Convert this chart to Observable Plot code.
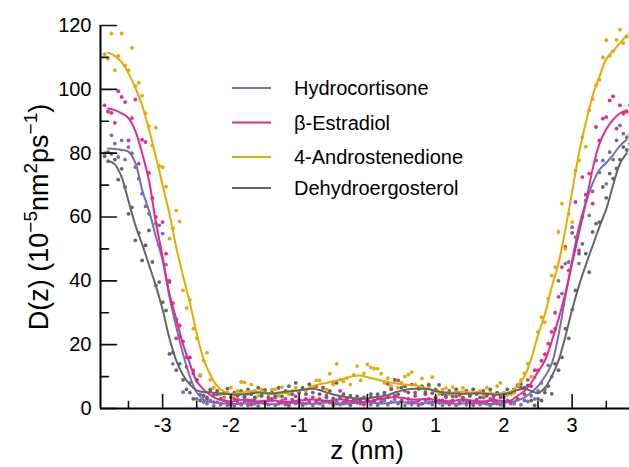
<!DOCTYPE html>
<html><head><meta charset="utf-8">
<script src="https://cdn.jsdelivr.net/npm/d3@7"></script>
<script src="https://cdn.jsdelivr.net/npm/@observablehq/plot@0.6"></script>
<style>body{margin:0;background:#fff}#chart{width:629px;height:467px}</style>
</head><body><div id="chart"></div>
<script>
const seriesNames = ["Hydrocortisone","β-Estradiol","4-Androstenedione","Dehydroergosterol"];
const seriesColors = ["#7570b3","#e7298a","#e6ab02","#666666"];
const yMajorTicks = [0,20,40,60,80,100,120];
const yMinorTicks = [10,30,50,70,90,110];
const xMajorTicks = [-3,-2,-1,0,1,2,3];
const xMinorTicks = [-3.5,-2.5,-1.5,-0.5,0.5,1.5,2.5,3.5];

// smoothed curves
const zLine = [-3.8,-3.7,-3.6,-3.5,-3.4,-3.3,-3.2,-3.1,-3,-2.9,-2.8,-2.7,-2.6,-2.5,-2.4,-2.3,-2.2,-2.1,-2,-1.9,-1.8,-1.7,-1.6,-1.5,-1.4,-1.3,-1.2,-1.1,-1,-0.9,-0.8,-0.7,-0.6,-0.5,-0.4,-0.3,-0.2,-0.1,0,0.1,0.2,0.3,0.4,0.5,0.6,0.7,0.8,0.9,1,1.1,1.2,1.3,1.4,1.5,1.6,1.7,1.8,1.9,2,2.1,2.2,2.3,2.4,2.5,2.6,2.7,2.8,2.9,3,3.1,3.2,3.3,3.4,3.5,3.6,3.7,3.8];
const hydroLine = [81.5,81.3,81,80.5,77,68.5,62,54,46.4,35,25.5,17,10,5,2.8,2,1.8,1.6,1.5,1.4,1.6,1.8,1.7,1.5,1.3,1.4,1.6,1.8,1.7,1.5,1.5,1.7,1.9,1.8,1.6,1.5,1.7,1.9,2,1.8,1.6,1.7,1.9,2,1.8,1.6,1.5,1.7,1.9,1.8,1.6,1.5,1.6,1.8,1.7,1.5,1.4,1.6,1.8,2,2.5,3.5,5,7,10,14,23,35,46.4,57,64.5,70.5,74.8,77,79.5,82.3,84.3];
const estraLine = [94,93.5,92.5,91,87,80,71.5,58.5,47.5,36,28,20,14,8.5,6,4.2,3,2.5,2.2,2.5,2.8,2.5,2.2,2.4,2.6,2.3,2,2.2,2.5,2.7,2.8,2.6,2.4,2.6,2.9,2.6,2.2,2,2.2,2.6,3,3.4,3.6,3.4,3,2.8,2.9,3,2.7,2.4,2.3,2.5,2.8,2.6,2.3,2.2,2.4,2.6,2.3,2.5,4,5.5,8,11.5,15,21,28,36,45.5,55,64.5,75,83,87.5,90.5,92.5,93.5];
const androLine = [111.5,110.5,108.5,105,100.5,95,87.5,79,70,61,50.5,41.5,33,23.5,15.5,10.5,7,5.3,4.6,4.8,5.2,5.5,5.3,5,4.8,4.6,5,5.3,5.6,6,7,7.6,8,8.6,9,9.6,10.2,10.3,9.8,9.3,8.8,8.3,7.9,7.7,7.4,7.2,6.7,6.1,5.6,5.1,5,5.2,5.3,5.1,5,4.9,4.7,4.5,4.6,5.3,7,10,15.5,23,29.5,38,45.5,56,68,80,89.5,98,104,109.5,112,114.5,117];
const dehydLine = [77.6,76.5,72.5,65,57.5,51.5,45,38.5,31,22,15,10.5,7.5,5.7,5.2,5,4.8,4.6,4.4,4.3,4.5,4.8,5,4.8,4.7,5,5.3,5.5,5.7,6,6.2,5.8,5,4.4,3.9,3.5,3.2,3,3.1,3.5,3.8,4.2,5,5.6,6,6.2,6.2,6,5.5,5.1,4.8,4.7,4.6,4.6,4.8,4.7,4.5,4.3,4.5,5,5.8,6.2,5.5,4.8,6.5,10,15,22.5,31,38.5,45,51,57,62.5,70,76.7,80];

// raw points
const zDots = [-3.85,-3.8,-3.75,-3.7,-3.65,-3.6,-3.55,-3.5,-3.45,-3.4,
-3.35,-3.3,-3.25,-3.2,-3.15,-3.1,-3.05,-3,-2.95,-2.9,
-2.85,-2.8,-2.75,-2.7,-2.65,-2.6,-2.55,-2.5,-2.45,-2.4,
-2.35,-2.3,-2.25,-2.2,-2.15,-2.1,-2.05,-2,-1.95,-1.9,
-1.85,-1.8,-1.75,-1.7,-1.65,-1.6,-1.55,-1.5,-1.45,-1.4,
-1.35,-1.3,-1.25,-1.2,-1.15,-1.1,-1.05,-1,-0.95,-0.9,
-0.85,-0.8,-0.75,-0.7,-0.65,-0.6,-0.55,-0.5,-0.45,-0.4,
-0.35,-0.3,-0.25,-0.2,-0.15,-0.1,-0.05,0,0.05,0.1,
0.15,0.2,0.25,0.3,0.35,0.4,0.45,0.5,0.55,0.6,
0.65,0.7,0.75,0.8,0.85,0.9,0.95,1,1.05,1.1,
1.15,1.2,1.25,1.3,1.35,1.4,1.45,1.5,1.55,1.6,
1.65,1.7,1.75,1.8,1.85,1.9,1.95,2,2.05,2.1,
2.15,2.2,2.25,2.3,2.35,2.4,2.45,2.5,2.55,2.6,
2.65,2.7,2.75,2.8,2.85,2.9,2.95,3,3.05,3.1,
3.15,3.2,3.25,3.3,3.35,3.4,3.45,3.5,3.55,3.6,
3.65,3.7,3.75,3.8,3.85];
const hydroDots = [80,77.5,85.6,83,78.8,84,78,81.9,80,75.6,
72,67.3,63.3,61,65.7,58,57.4,54.8,45.1,39.6,
14,28,22.4,5.1,16,8,12,3,4.5,2,
1.5,2.5,0.8,2,1.2,2.5,1,1.8,0.8,2,
1.2,2.2,1,2.5,1.5,0.8,2,1.5,1.2,2.5,
1,1.8,2.5,1.2,0.8,2,1.5,2.8,1,1.5,
2,1,2.5,1.5,0.8,2.2,1.8,1,2.5,1.2,
1.5,2.2,1,2,2.8,1.5,1.8,2.5,1.2,2,
1,1.8,2.5,1.2,2,2.8,1.5,2.2,1,1.8,
1.2,2,1,1.5,2.5,1.8,1.2,2.2,2.5,1,
1.8,1.2,2.2,1,1.5,2.5,1.2,2,1,1.8,
1.2,2,1.5,1,1.8,2.2,1.2,1,2.5,1.5,
1.5,3,1.2,2.5,2.2,4,3,5.5,8,6,
13.5,10,25,40,36,45.4,45.9,56.8,53.7,45.4,
60,65.2,60.5,68,77.7,74,77.7,70.4,80.3,78,
84,88.7,86.1,85,86];
const estraDots = [95,93,92.6,89.5,99.4,97.6,96,84,91,96.8,
76.7,84.2,83.5,73.8,66,60,51.1,58.4,48.5,40,
33,22,26,21,13,16,11,9,10.3,4,
3,5.5,2,4.5,1.5,3.5,2,1.2,3,2.8,
1.5,3.5,2.5,1.2,3,2,4,1.8,2.5,3,
3.5,1.5,2,3,1.2,2.8,3.8,2,1.5,3,
2,3.5,1.8,3,2.2,4,2,7.7,1.5,5.5,
2,3.2,1.5,2.8,1.8,3,1.2,2.5,3.5,2,
3.5,2,4.5,7.7,6.5,4,8.8,2.5,5.5,3,
2,4,2.5,1.5,4.5,3,2,3.5,1.8,2.5,
3.5,1.5,2.5,3.8,1.8,3,2.5,4,1.5,2.8,
2,3.5,1.5,3,2.8,1.5,3.5,2,4.5,2,
5,3,6.5,4.5,9,7,12,11.9,15,17,
20.3,24,30,35,44.3,50.6,43.3,55,64.7,49.5,
72.5,67,73.6,64.2,88.2,84,90.8,91.3,96.5,97.8,
87.7,95,92.4,93,95];
const androDots = [111,109.5,117.5,106,110.5,117.5,107.5,106,113,101,
102,98,92.5,88.5,82.4,88,76,75.6,69.5,53.2,
56.5,62,58.6,37,31.5,34,25,22,10.5,15,
17.5,9,6.5,5.5,4.5,3.2,5,6.5,4.2,5.5,
8.3,8.2,4.5,7.5,5.5,4,6,5.2,4.5,6,
6,4,6.7,5,4.5,5.5,6.5,5,6.2,5.5,
7.7,6.5,8.8,8.8,6.5,6,10.9,7.5,14,9,
8.5,9.5,7.5,10.5,13.3,8.8,11,13.8,12.9,12.5,
12.5,10.9,8,9.5,7,9,6.5,8,10,10.6,
11.4,7.5,6,9.4,5.5,7,9.8,5.5,4.5,6,
6.4,4.5,6.7,5,4,6.5,5.5,4.5,6,5,
5.5,4.2,6.5,5,4.5,7,8,5,4.2,4.5,
5,7.5,9,11,14,10,9.8,24,28.6,27,
34.4,41.7,44.3,55.3,64.2,50,61,58.4,74.6,77.7,
85,82,93.4,97,101.3,103,110,115.4,110.5,112,
115.5,118.7,114.5,116.5,118];
const dehydDots = [79,80.3,79.8,78,71.7,75.1,69.4,61,63,52.7,
55,46.4,51.1,55.8,45.9,38.6,39.6,33.3,30.7,17.1,
17.5,12,14,9,6,5,3,8.8,2.5,4,
3.5,6,4.2,5.5,3,4.8,6.2,3.5,5,4,
5.5,3.8,6,4.5,3.5,6.5,4,5.8,3.5,5,
4,6.5,3.8,5.5,7,4.5,8,5,6.5,4.5,
7.5,5,7,4.5,6.5,3.5,5.5,3.2,8,3.5,
4.5,2.5,4,2.3,3.8,2.3,3.5,2.8,4.5,2.5,
4.5,3,5,3.5,6,9,4.5,6.5,7,5,
7.5,5,6.5,7,5,7.5,4.8,6,7.4,4.5,
4,5.5,3.8,6,4.5,3.5,5.5,4,6,4.5,
3.5,5.5,4,6,3.8,5,4.5,3.5,6,5,
6,7,7.7,6.5,7.2,2.5,1,3,2.5,5,
7,4.6,14,12,16,25,22,31,37,48.5,
51.6,48.5,42.7,55.3,57.9,58.4,69.4,66,73.6,72,
75.2,78,81.9,81,83];

const lineSeries = [hydroLine, estraLine, androLine, dehydLine];
const dotSeries = [hydroDots, estraDots, androDots, dehydDots];
const lineData = [], dotData = [];
seriesNames.forEach((s, k) => {
  zLine.forEach((z, i) => lineData.push({series: s, z, D: lineSeries[k][i]}));
  zDots.forEach((z, i) => dotData.push({series: s, z, D: dotSeries[k][i]}));
});

const font = "'Liberation Sans', Arial, Helvetica, sans-serif";
const xDomain = [-3.91, 3.84];
const tickShape = {draw(context, l) { context.moveTo(0, 0); context.lineTo(0, -l); }};
const tickStyle = {shape: tickShape, anchor: "start", stroke: "#111", strokeWidth: 1.6};
const plot = Plot.plot({
  width: 629, height: 467,
  marginLeft: 100, marginRight: 0, marginTop: 25, marginBottom: 59,
  style: {fontFamily: font, fontSize: "20px", color: "#000", background: "#fff", overflow: "visible"},
  x: {domain: xDomain},
  y: {domain: [0, 120]},
  color: {domain: seriesNames, range: seriesColors},
  marks: [
    Plot.dot(dotData, {x: "z", y: "D", fill: "series", r: 1.9}),
    Plot.line(lineData, {x: "z", y: "D", stroke: "series", z: "series", strokeWidth: 2, curve: "catmull-rom"}),
    Plot.axisY({ticks: yMajorTicks, tickSize: 0, tickPadding: 9, tickFormat: d => String(d), label: null}),
    Plot.axisX({ticks: xMajorTicks, tickSize: 0, tickPadding: 9, tickFormat: d => String(d), label: null}),
    Plot.vector(yMajorTicks, {x: xDomain[0], y: d => d, length: 16, rotate: 90, ...tickStyle}),
    Plot.vector(yMinorTicks, {x: xDomain[0], y: d => d, length: 8, rotate: 90, ...tickStyle}),
    Plot.vector(xMajorTicks, {x: d => d, y: 0, length: 14, rotate: 0, ...tickStyle}),
    Plot.vector(xMinorTicks, {x: d => d, y: 0, length: 7, rotate: 0, ...tickStyle}),
    Plot.ruleX([xDomain[0]], {stroke: "#000", strokeWidth: 2}),
    Plot.ruleY([0], {stroke: "#000", strokeWidth: 2})
  ]
});
document.getElementById("chart").appendChild(plot);

const svg = d3.select(plot);
// x title
svg.append("text").attr("x", 367).attr("y", 459).attr("text-anchor", "middle")
  .attr("font-size", 26).attr("font-family", font).attr("fill", "#000").text("z (nm)");
// y title
const yl = svg.append("text").attr("transform", "translate(48,217) rotate(-90)")
  .attr("text-anchor", "middle").attr("font-size", 27).attr("font-family", font).attr("fill", "#000");
yl.append("tspan").text("D(z) (10");
yl.append("tspan").attr("font-size", 19).attr("dy", -11).text("−5");
yl.append("tspan").attr("dy", 11).text("nm");
yl.append("tspan").attr("font-size", 19).attr("dy", -11).text("2");
yl.append("tspan").attr("dy", 11).text("ps");
yl.append("tspan").attr("font-size", 19).attr("dy", -11).text("−1");
yl.append("tspan").attr("dy", 11).text(")");
// legend
const legendY = [88, 122.5, 157, 188];
const lg = svg.append("g");
seriesNames.forEach((s, i) => {
  lg.append("line").attr("x1", 232).attr("x2", 271).attr("y1", legendY[i]).attr("y2", legendY[i])
    .attr("stroke", seriesColors[i]).attr("stroke-width", 2);
  lg.append("text").attr("x", 294).attr("y", legendY[i]).attr("dy", "0.35em").attr("text-anchor", "start")
    .attr("font-size", 20).attr("font-family", font).attr("fill", "#000").text(s);
});
</script>
</body></html>
